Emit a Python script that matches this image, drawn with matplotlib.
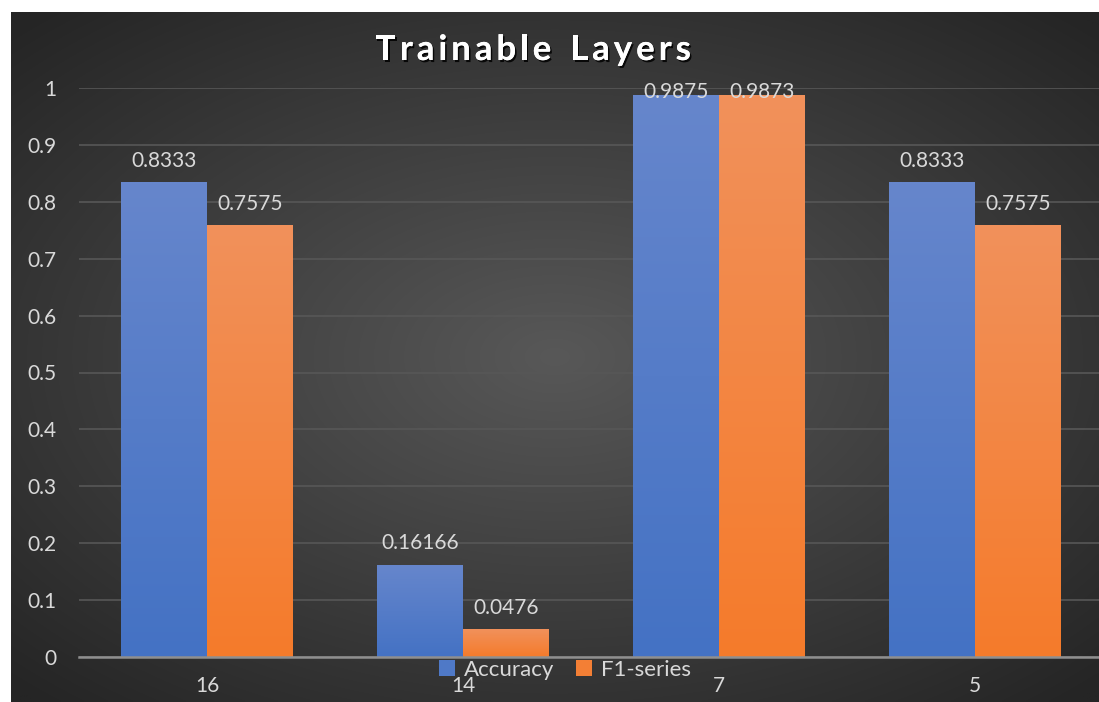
import numpy as np
import matplotlib
matplotlib.use("Agg")
import matplotlib.pyplot as plt
from matplotlib import patheffects
from matplotlib.patches import Patch

# Chart data
categories = ["16", "14", "7", "5"]
accuracy = [0.8333, 0.16166, 0.9875, 0.8333]
f1_series = [0.7575, 0.0476, 0.9873, 0.7575]
accuracy_labels = ["0.8333", "0.16166", "0.9875", "0.8333"]
f1_labels = ["0.7575", "0.0476", "0.9873", "0.7575"]
y_ticks = [0, 0.1, 0.2, 0.3, 0.4, 0.5, 0.6, 0.7, 0.8, 0.9, 1]
y_tick_labels = ["0", "0.1", "0.2", "0.3", "0.4", "0.5", "0.6", "0.7", "0.8", "0.9", "1"]
title = "Trainable Layers"

FONT = ["Lato", "DejaVu Sans"]
TEXT_COLOR = "#d9d9d9"
LABEL_SIZE = 15
W, H = 1099, 702

fig = plt.figure(figsize=(W / 100, H / 100), dpi=100, facecolor="white")

# Dark radial-gradient backdrop of the chart panel
bg_ax = fig.add_axes([11 / W, 0, 1 - 11 / W, 1 - 12 / H])
bg_ax.set_axis_off()
gx, gy = np.meshgrid(np.linspace(-1, 1, 400), np.linspace(-1, 1, 260))
r = np.clip(np.sqrt((gx / 1.05) ** 2 + (gy / 1.0) ** 2) / 1.35, 0, 1)
dark = np.array([0x25, 0x25, 0x25]) / 255
light = np.array([0x58, 0x58, 0x58]) / 255
bg = light[None, None, :] * (1 - r[..., None]) + dark[None, None, :] * r[..., None]
bg_ax.imshow(bg, extent=[0, 1, 0, 1], aspect="auto", interpolation="bilinear")
bg_ax.set_xlim(0, 1)
bg_ax.set_ylim(0, 1)

# Plot area
left, right = 79 / W, 1103 / W
bottom, top = 45 / H, 614 / H
ax = fig.add_axes([left, bottom, right - left, top - bottom])
ax.patch.set_alpha(0)

for s in ["top", "right", "left"]:
    ax.spines[s].set_visible(False)
ax.spines["bottom"].set_color("#8f8f8f")
ax.spines["bottom"].set_linewidth(1.8)
ax.spines["bottom"].set_zorder(5)

ax.set_yticks(y_ticks)
ax.set_yticklabels(y_tick_labels)
ax.set_xticks(range(len(categories)))
ax.set_xticklabels(categories)
ax.tick_params(axis="both", length=0, labelcolor=TEXT_COLOR, labelsize=LABEL_SIZE)
ax.tick_params(axis="y", pad=16)
ax.tick_params(axis="x", pad=14)
for lbl in ax.get_xticklabels() + ax.get_yticklabels():
    lbl.set_fontfamily(FONT)
ax.yaxis.grid(True, color="#575757", linewidth=1.2)
ax.set_axisbelow(True)


def gradient_bar(x0, width, height, top_rgb, bottom_rgb):
    grad = np.linspace(0, 1, 128)[:, None, None]
    top_c = np.array(top_rgb) / 255
    bot_c = np.array(bottom_rgb) / 255
    img = top_c * (1 - grad) + bot_c * grad
    img = np.repeat(img, 2, axis=1)
    ax.imshow(img, extent=[x0, x0 + width, 0, height], aspect="auto",
              interpolation="bilinear", zorder=3)


bar_w = 0.335
blue_top, blue_bot = (0x66, 0x86, 0xcc), (0x44, 0x72, 0xc4)
orange_top, orange_bot = (0xf1, 0x91, 0x5b), (0xf5, 0x7b, 0x2b)

label_kw = dict(ha="center", va="center", color=TEXT_COLOR, fontsize=LABEL_SIZE,
                family=FONT, zorder=6, clip_on=False)
for i in range(len(categories)):
    gradient_bar(i - bar_w, bar_w, accuracy[i], blue_top, blue_bot)
    gradient_bar(i, bar_w, f1_series[i], orange_top, orange_bot)
    ax.text(i - bar_w / 2, min(accuracy[i] + 0.038, 0.993), accuracy_labels[i], **label_kw)
    ax.text(i + bar_w / 2, min(f1_series[i] + 0.038, 0.993), f1_labels[i], **label_kw)

ax.set_xlim(-0.5, len(categories) - 0.5)
ax.set_ylim(0, 1)

# Letter-spaced title with drop shadow
renderer = fig.canvas.get_renderer()
title_kw = dict(fontsize=25, fontweight="bold", color="white", family=FONT,
                va="center", ha="left",
                path_effects=[patheffects.withSimplePatchShadow(offset=(1.2, -1.5),
                                                                shadow_rgbFace="black",
                                                                alpha=0.85),
                              patheffects.Normal()])
tracking = 4.0  # extra pixels between letters
glyphs = [fig.text(0, 0, ch, **title_kw) for ch in title]
widths = []
for g in glyphs:
    if g.get_text() == " ":
        g.set_text("n")
        widths.append(g.get_window_extent(renderer).width * 0.55)
        g.set_text(" ")
    else:
        widths.append(g.get_window_extent(renderer).width)
total = sum(widths) + tracking * (len(glyphs) - 1)
x = 533 - total / 2
for g, w in zip(glyphs, widths):
    g.set_position((x / W, 1 - 50 / H))
    x += w + tracking

# Legend
handles = [Patch(facecolor="#4f79c7", label="Accuracy"),
           Patch(facecolor="#f37f35", label="F1-series")]
leg = fig.legend(handles=handles, loc="center", bbox_to_anchor=(565 / W, 1 - 670 / H),
                 ncol=2, frameon=False, handlelength=0.7, handleheight=0.7,
                 handletextpad=0.4, columnspacing=1.0,
                 prop={"family": FONT, "size": 16})
for t in leg.get_texts():
    t.set_color(TEXT_COLOR)

fig.savefig("out.png", dpi=100, facecolor="white")
